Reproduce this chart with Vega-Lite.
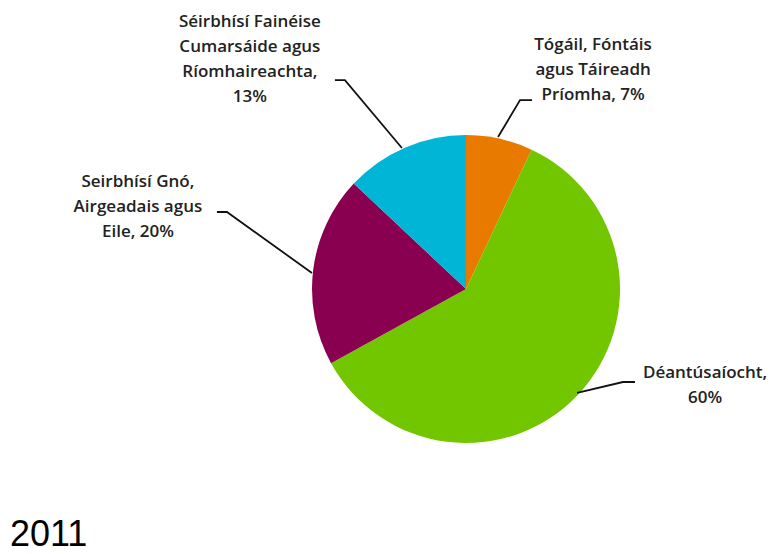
{
  "$schema": "https://vega.github.io/schema/vega-lite/v6.json",
  "width": 630,
  "height": 530,
  "autosize": {"type": "none"},
  "padding": {"left": 151, "top": 24, "right": 0, "bottom": 0},
  "background": "white",
  "config": {"view": {"stroke": null}},
  "datasets": {
    "slices": [
      {"sector": "Tógáil, Fóntáis agus Táireadh Príomha", "share": 7, "order": 1},
      {"sector": "Déantúsaíocht", "share": 60, "order": 2},
      {"sector": "Seirbhísí Gnó, Airgeadais agus Eile", "share": 20, "order": 3},
      {"sector": "Séirbhísí Fainéise Cumarsáide agus Ríomhaireachta", "share": 13, "order": 4}
    ],
    "labels": [
      {"label": "Tógáil, Fóntáis\nagus Táireadh\nPríomha, 7%", "lx": 82.5, "ly": 158.4},
      {"label": "Déantúsaíocht,\n60%", "lx": 155.2, "ly": -54.5},
      {"label": "Seirbhísí Gnó,\nAirgeadais agus\nEile, 20%", "lx": -213, "ly": 69.5},
      {"label": "Séirbhísí Fainéise\nCumarsáide agus\nRíomhaireachta,\n13%", "lx": -140.3, "ly": 173.4}
    ],
    "leaders": [
      {"id": "a", "seq": 1, "lx": 42.9, "ly": 122.7},
      {"id": "a", "seq": 2, "lx": 35.1, "ly": 122.7},
      {"id": "a", "seq": 3, "lx": 20.8, "ly": 98.7},
      {"id": "b", "seq": 1, "lx": 109.7, "ly": -60.4},
      {"id": "b", "seq": 2, "lx": 101.9, "ly": -60.4},
      {"id": "b", "seq": 3, "lx": 72.1, "ly": -67.5},
      {"id": "c", "seq": 1, "lx": -161.7, "ly": 50},
      {"id": "c", "seq": 2, "lx": -155.2, "ly": 50},
      {"id": "c", "seq": 3, "lx": -100, "ly": 10.4},
      {"id": "d", "seq": 1, "lx": -85.1, "ly": 135.7},
      {"id": "d", "seq": 2, "lx": -78.6, "ly": 135.7},
      {"id": "d", "seq": 3, "lx": -41.6, "ly": 91.6}
    ],
    "year": [
      {"label": "2011", "lx": -296.1, "ly": -166.9}
    ]
  },
  "layer": [
    {
      "data": {"name": "slices"},
      "mark": {"type": "arc", "outerRadius": 154},
      "encoding": {
        "theta": {"field": "share", "type": "quantitative", "stack": true},
        "order": {"field": "order", "type": "quantitative"},
        "color": {
          "field": "sector",
          "type": "nominal",
          "scale": {
            "domain": [
              "Tógáil, Fóntáis agus Táireadh Príomha",
              "Déantúsaíocht",
              "Seirbhísí Gnó, Airgeadais agus Eile",
              "Séirbhísí Fainéise Cumarsáide agus Ríomhaireachta"
            ],
            "range": ["#E97A00", "#72C600", "#8A0050", "#00B5D6"]
          },
          "legend": null
        }
      }
    },
    {
      "data": {"name": "leaders"},
      "mark": {"type": "line", "color": "#111111", "strokeWidth": 1.8},
      "encoding": {
        "x": {"field": "lx", "type": "quantitative", "scale": {"domain": [-204.5, 204.5]}, "axis": null},
        "y": {"field": "ly", "type": "quantitative", "scale": {"domain": [-172.1, 172.1]}, "axis": null},
        "detail": {"field": "id", "type": "nominal"},
        "order": {"field": "seq", "type": "quantitative"}
      }
    },
    {
      "data": {"name": "labels"},
      "mark": {"type": "text", "align": "center", "baseline": "middle", "lineBreak": "\n", "lineHeight": 25, "font": "Open Sans", "fontSize": 17, "fontWeight": 600, "color": "#222222"},
      "encoding": {
        "x": {"field": "lx", "type": "quantitative", "scale": {"domain": [-204.5, 204.5]}, "axis": null},
        "y": {"field": "ly", "type": "quantitative", "scale": {"domain": [-172.1, 172.1]}, "axis": null},
        "text": {"field": "label", "type": "nominal"}
      }
    },
    {
      "data": {"name": "year"},
      "mark": {"type": "text", "align": "left", "baseline": "alphabetic", "font": "Liberation Sans", "fontSize": 36, "color": "#000000"},
      "encoding": {
        "x": {"field": "lx", "type": "quantitative", "scale": {"domain": [-204.5, 204.5]}, "axis": null},
        "y": {"field": "ly", "type": "quantitative", "scale": {"domain": [-172.1, 172.1]}, "axis": null},
        "text": {"field": "label", "type": "nominal"}
      }
    }
  ]
}
